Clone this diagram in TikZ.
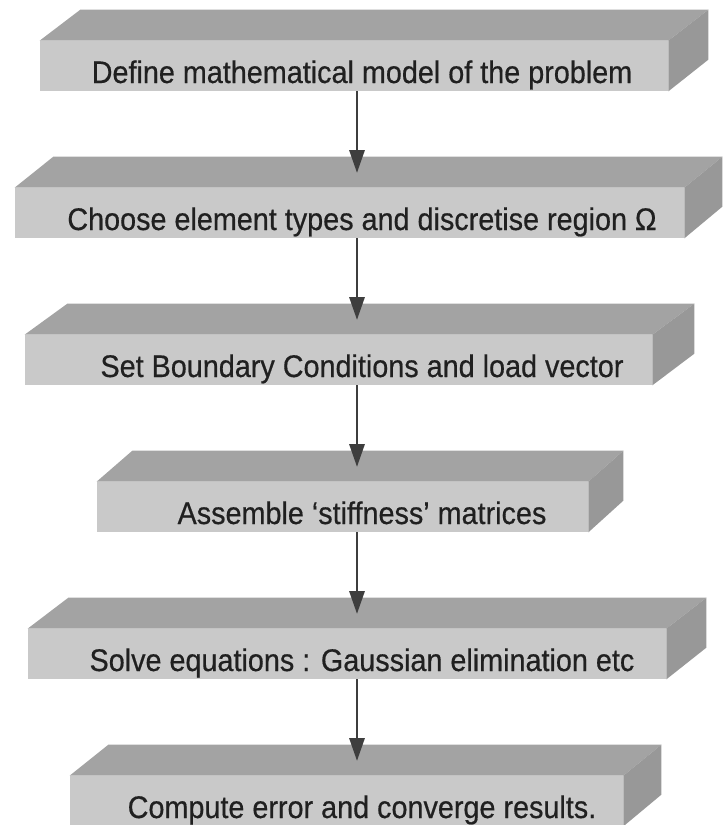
\documentclass[tikz,border=0pt]{standalone}
\usepackage{fontspec}
\setmainfont{Liberation Sans}
\newfontfamily\stepfont{Liberation Sans}[FakeStretch=0.92,FakeBold=0.5]
\usepackage{xcolor}
\usepackage{tikz}
\usetikzlibrary{arrows.meta}
\definecolor{front}{RGB}{201,201,201}
\definecolor{lid}{RGB}{163,163,163}
\definecolor{flank}{RGB}{152,152,152}
\definecolor{ink}{RGB}{32,32,32}
\definecolor{shaft}{RGB}{62,62,62}

\begin{document}
\begin{tikzpicture}[x=0.02cm,y=-0.02cm,
  frontface/.style={fill=front,inner sep=0pt,minimum height=1.0cm},
  topface/.style={fill=lid},
  sideface/.style={fill=flank},
  steptext/.style={font=\stepfont\fontsize{17.8}{20}\selectfont,text=ink,anchor=base},
  flow/.style={draw=shaft,line width=1.7pt,-{Triangle[length=13pt,width=8.5pt]}}]
\useasboundingbox (0,0) rectangle (723,825);
\foreach \n/\l/\r/\t/\d/\txt in {
  b1/40/668/41/40/{Define mathematical model of the problem},
  b2/15/684/188/38/{Choose element types and discretise region Ω},
  b3/25/652/335/42/{Set Boundary Conditions and load vector},
  b4/97/588/482/35/{Assemble ‘stiffness’ matrices},
  b5/28/666/629/40/{Solve equations : Gaussian elimination etc},
  b6/70/623/776/38/{Compute error and converge results.}}{
  \pgfmathsetmacro\w{(\r-\l)*0.02}
  \node[frontface,minimum width=\w cm] (\n) at ({(\l+\r)/2},\t+25) {};
  \fill[topface] (\n.north west) -- (\n.north east) -- ++(\d,-31) -- ++({\l-\r},0) -- cycle;
  \fill[sideface] (\n.north east) -- ++(\d,-31) -- ++(0,50) -- (\n.south east) -- cycle;
  \node[steptext] (\n-text) at (362,\t+42) {\txt};
  \coordinate (\n-top) at (357,\t-15);
}
\foreach \a/\b in {b1/b2,b2/b3,b3/b4,b4/b5,b5/b6}
  \draw[flow] (\a.south -| \b-top) -- (\b-top);
\end{tikzpicture}
\end{document}
